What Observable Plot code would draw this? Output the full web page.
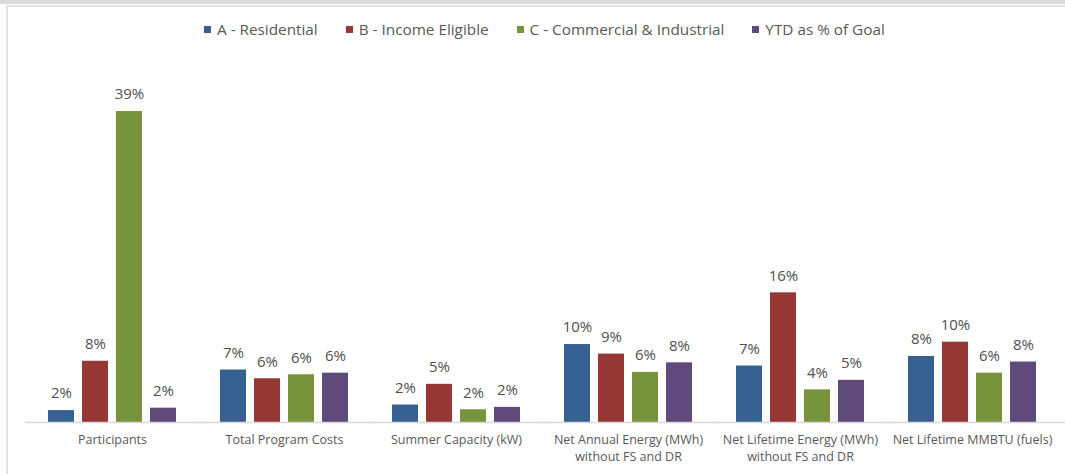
<!DOCTYPE html>
<html>
<head>
<meta charset="utf-8">
<script src="https://cdn.jsdelivr.net/npm/d3@7"></script>
<script src="https://cdn.jsdelivr.net/npm/@observablehq/plot@0.6"></script>
<style>
  html, body { margin: 0; padding: 0; background: #fff; }
  body { width: 1065px; height: 474px; position: relative; overflow: hidden; font-family: "Open Sans", sans-serif; }
  #topband { position: absolute; left: 0; top: 0; width: 1065px; height: 4px; background: #d9d9d9; }
  #frame { position: absolute; left: 6px; top: 5px; width: 1070px; height: 480px; border-left: 2px solid #e2e2e2; border-top: 2px solid #e2e2e2; }
  #legend { position: absolute; left: 204px; top: 19px; display: flex; align-items: center; gap: 28px; font-size: 15.3px; color: #595959; white-space: nowrap; }
  #legend .item { display: flex; align-items: center; }
  #legend .sw { width: 7px; height: 7px; margin-right: 6px; }
  #chart { position: absolute; left: 0; top: 50px; }
</style>
</head>
<body>
<div id="topband"></div>
<div id="frame"></div>
<div id="legend"></div>
<div id="chart"></div>
<script>
const categories = [
  "Participants",
  "Total Program Costs",
  "Summer Capacity (kW)",
  "Net Annual Energy (MWh)\nwithout FS and DR",
  "Net Lifetime Energy (MWh)\nwithout FS and DR",
  "Net Lifetime MMBTU (fuels)"
];
const seriesNames = ["A - Residential", "B - Income Eligible", "C - Commercial & Industrial", "YTD as % of Goal"];
const seriesColors = ["#376092", "#953735", "#77933C", "#604A7B"];

// percent of goal per category
const residential    = [1.5, 6.6, 2.2, 9.8, 7.1, 8.3];
const incomeEligible = [7.7, 5.5, 4.8, 8.6, 16.3, 10.1];
const commercial     = [39.1, 6.0, 1.6, 6.3, 4.1, 6.2];
const ytdGoal        = [1.8, 6.2, 1.9, 7.5, 5.3, 7.6];

const seriesValues = [residential, incomeEligible, commercial, ytdGoal];
const data = [];
categories.forEach((c, i) => {
  seriesNames.forEach((s, j) => {
    const v = seriesValues[j][i];
    data.push({category: c, series: s, value: v, label: Math.round(v) + "%"});
  });
});

// legend
const legend = document.getElementById("legend");
seriesNames.forEach((s, j) => {
  const item = document.createElement("div");
  item.className = "item";
  const sw = document.createElement("span");
  sw.className = "sw";
  sw.style.background = seriesColors[j];
  const t = document.createElement("span");
  t.textContent = s;
  item.appendChild(sw);
  item.appendChild(t);
  legend.appendChild(item);
});

const chart = Plot.plot({
  width: 1065,
  height: 424,
  marginLeft: 26,
  marginRight: 7,
  marginTop: 61,
  marginBottom: 52,
  style: {fontFamily: "Open Sans", background: "transparent", overflow: "visible"},
  fx: {domain: categories, paddingInner: 0.2, paddingOuter: 0.1, label: null},
  x: {domain: seriesNames, paddingInner: 0.23, paddingOuter: 0.11, axis: null},
  y: {domain: [0, 39.1], axis: null},
  color: {domain: seriesNames, range: seriesColors},
  marks: [
    Plot.barY(data, {fx: "category", x: "series", y: "value", fill: "series"}),
    Plot.ruleY([0], {stroke: "#d9d9d9", strokeWidth: 1.5, insetLeft: -18, insetRight: -24}),
    Plot.text(data, {fx: "category", x: "series", y: "value", text: "label", dy: -17, fontSize: 15, fill: "#505050"}),
    Plot.axisFx({anchor: "bottom", tickSize: 0, tickPadding: 9, fontSize: 12.5, lineHeight: 1.36, fill: "#595959", label: null})
  ]
});
document.getElementById("chart").appendChild(chart);
</script>
</body>
</html>
